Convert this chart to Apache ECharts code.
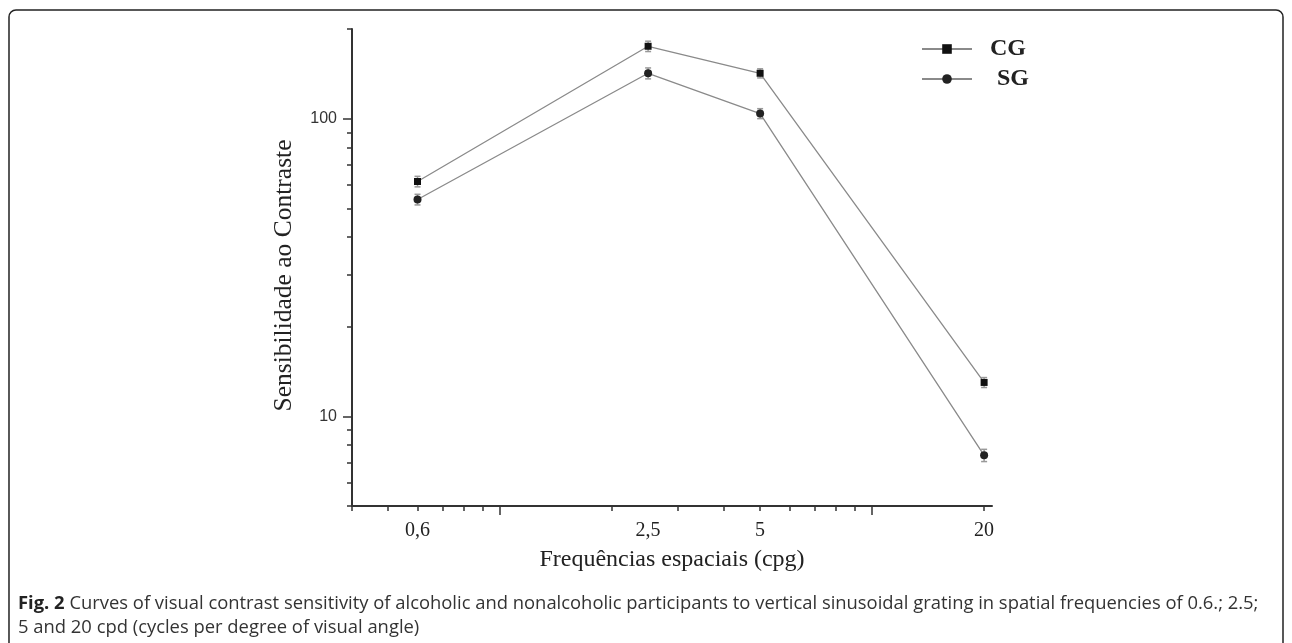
<!DOCTYPE html>
<html><head><meta charset="utf-8">
<script src="https://cdn.jsdelivr.net/npm/echarts@6/dist/echarts.min.js"></script>
<style>html,body{margin:0;padding:0;background:#fff;} #c{width:1292px;height:643px;}</style>
</head><body><div id="c"></div>
<script>
const frequencies = [0.6, 2.5, 5, 20];
const cgValues = [61.5, 175, 142, 13.0];
const sgValues = [53.5, 142, 104, 7.4];
const cgErrors = [2.5, 7, 5, 0.5];
const sgErrors = [2.2, 6, 4, 0.35];
const seriesNames = ['CG', 'SG'];
const xLabelValues = [0.6, 2.5, 5, 20];
const xMajorTicks = [1, 10];
const xMinorTicks = [0.4, 0.5, 0.6, 0.7, 0.8, 0.9, 2, 3, 4, 5, 6, 7, 8, 9, 20];
const yLabelValues = [10, 100];
const yMinorTicks = [5, 6, 7, 8, 9, 20, 30, 40, 50, 60, 70, 80, 90, 200];
const xName = 'Frequências espaciais (cpg)';
const yName = 'Sensibilidade ao Contraste';
const captionBold = 'Fig. 2';
const captionLine1 = ' Curves of visual contrast sensitivity of alcoholic and nonalcoholic participants to vertical sinusoidal grating in spatial frequencies of 0.6.; 2.5;';
const captionLine2 = '5 and 20 cpd (cycles per degree of visual angle)';

const chart = echarts.init(document.getElementById('c'), null, {renderer: 'canvas'});
const serif = 'Liberation Serif, Times New Roman, serif';
const axisColor = '#333';

function pts(vals) { return frequencies.map((f, i) => [f, vals[i]]); }
function errs(vals, e) { return frequencies.map((f, i) => [f, vals[i] - e[i], vals[i] + e[i]]); }

function errRender(params, api) {
  const x = api.value(0);
  const p1 = api.coord([x, api.value(1)]);
  const p2 = api.coord([x, api.value(2)]);
  const w = 3;
  const st = {stroke: '#999', lineWidth: 1.5};
  return {type: 'group', children: [
    {type: 'line', shape: {x1: p1[0], y1: p1[1], x2: p2[0], y2: p2[1]}, style: st},
    {type: 'line', shape: {x1: p1[0]-w, y1: p1[1], x2: p1[0]+w, y2: p1[1]}, style: st},
    {type: 'line', shape: {x1: p2[0]-w, y1: p2[1], x2: p2[0]+w, y2: p2[1]}, style: st}
  ]};
}

const xBase = {type: 'log', min: 0.4, max: 21, splitLine: {show: false}, position: 'bottom'};
const yBase = {type: 'log', min: 5, max: 200, splitLine: {show: false}, position: 'left'};

chart.setOption({
  animation: false,
  backgroundColor: '#fff',
  grid: {left: 352, right: 300, top: 29, bottom: 137},
  legend: {
    orient: 'vertical', left: 921, top: 37, itemWidth: 50, itemHeight: 12, itemGap: 6, padding: 0,
    data: [{name: seriesNames[0], textStyle: {padding: [0, 0, 0, 13]}}, {name: seriesNames[1], textStyle: {padding: [0, 0, 0, 20]}}],
    textStyle: {fontFamily: serif, fontSize: 24, fontWeight: 'bold', color: '#222', lineHeight: 22}
  },
  xAxis: [
    Object.assign({}, xBase, {
      axisLine: {show: true, lineStyle: {color: axisColor, width: 2}},
      axisTick: {show: true, customValues: xMajorTicks, length: 9, lineStyle: {color: axisColor, width: 1.5}},
      axisLabel: {show: true, customValues: xLabelValues, margin: 15, fontFamily: serif, fontSize: 20, color: '#222',
        formatter: v => String(v).replace('.', ',')},
      name: xName, nameLocation: 'middle', nameGap: 42,
      nameTextStyle: {fontFamily: serif, fontSize: 24, color: '#222'}
    }),
    Object.assign({}, xBase, {
      axisLine: {show: false},
      axisTick: {show: true, customValues: xMinorTicks, length: 5, lineStyle: {color: axisColor, width: 1.5}},
      axisLabel: {show: false}
    })
  ],
  yAxis: [
    Object.assign({}, yBase, {
      axisLine: {show: true, lineStyle: {color: axisColor, width: 2}},
      axisTick: {show: true, customValues: yLabelValues, length: 9, lineStyle: {color: axisColor, width: 1.5}},
      axisLabel: {show: true, customValues: yLabelValues, margin: 15, fontFamily: 'Liberation Sans, Arial, sans-serif', fontSize: 16, color: '#333'},
      name: yName, nameLocation: 'middle', nameGap: 55,
      nameTextStyle: {fontFamily: serif, fontSize: 25.5, color: '#222', padding: [0, 16, 0, 0]}
    }),
    Object.assign({}, yBase, {
      axisLine: {show: false},
      axisTick: {show: true, customValues: yMinorTicks, length: 5, lineStyle: {color: axisColor, width: 1.5}},
      axisLabel: {show: false}
    })
  ],
  series: [
    {type: 'custom', name: 'errCG', xAxisIndex: 0, yAxisIndex: 0, renderItem: errRender, data: errs(cgValues, cgErrors), z: 1, silent: true},
    {type: 'custom', name: 'errSG', xAxisIndex: 0, yAxisIndex: 0, renderItem: errRender, data: errs(sgValues, sgErrors), z: 1, silent: true},
    {type: 'line', name: seriesNames[0], data: pts(cgValues), symbol: 'rect', symbolSize: 7, z: 3,
      lineStyle: {color: '#8a8a8a', width: 1.3}, itemStyle: {color: '#111'}},
    {type: 'line', name: seriesNames[1], data: pts(sgValues), symbol: 'circle', symbolSize: 8, z: 3,
      lineStyle: {color: '#8a8a8a', width: 1.3}, itemStyle: {color: '#222'}}
  ],
  graphic: [
    {type: 'rect', shape: {x: 9, y: 10, width: 1274, height: 660, r: 7}, style: {fill: 'none', stroke: '#222', lineWidth: 1.5}, silent: true},
    {type: 'text', x: 18, y: 604, style: {
      text: '{b|' + captionBold + '}{n|' + captionLine1 + '}',
      verticalAlign: 'middle',
      rich: {
        b: {fontFamily: 'Open Sans, sans-serif', fontSize: 18.4, fontWeight: 'bold', fill: '#222'},
        n: {fontFamily: 'Open Sans, sans-serif', fontSize: 18.4, fill: '#333'}
      }
    }},
    {type: 'text', x: 18, y: 628, style: {
      text: captionLine2, verticalAlign: 'middle',
      font: '18.4px "Open Sans", sans-serif', fill: '#333'
    }}
  ]
});
</script></body></html>
